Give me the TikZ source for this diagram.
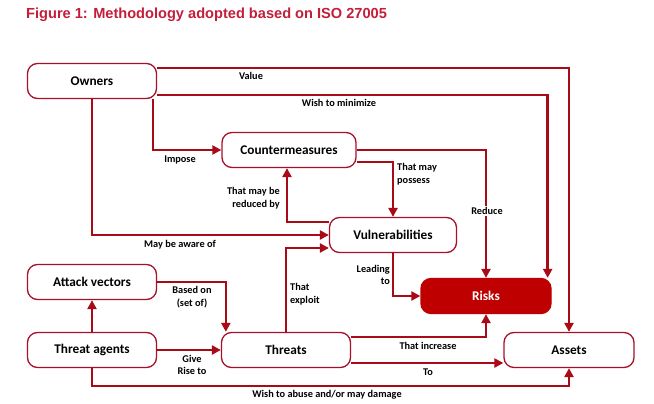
\documentclass[tikz,border=0pt]{standalone}
\usepackage{fontspec}
\setmainfont{Carlito}
\newfontfamily\titlefont{Liberation Sans}
\usetikzlibrary{arrows.meta,calc}
\definecolor{lred}{HTML}{A8102A}
\definecolor{ared}{HTML}{A80A18}
\definecolor{rfill}{HTML}{BE0000}
\definecolor{tred}{HTML}{C41E3A}
\begin{document}
\begin{tikzpicture}[x=1pt,y=-1pt,
  box/.style={draw=lred,line width=1.3pt,fill=white,rounded corners=10pt,
    minimum width=129pt,minimum height=35pt,inner sep=0pt,
    font=\fontsize{13.3}{15}\selectfont\bfseries},
  riskbox/.style={box,fill=rfill,draw=rfill,text=white},
  arr/.style={draw=ared,line width=2.6pt,-{Triangle[length=9pt,width=9pt]}},
  lab/.style={font=\fontsize{10.3}{12.6}\selectfont\bfseries,inner sep=0pt,align=center},
]
\useasboundingbox (0,0) rectangle (654,404);
\fill[white] (0,0) rectangle (654,404);
\node[anchor=west,text=tred,font=\titlefont\fontsize{14.6}{16}\selectfont\bfseries,inner sep=0pt] (title) at (26,15) {Figure 1: Methodology adopted based on ISO 27005};

% nodes
\node[box] (owners) at (92,81) {Owners};
\node[box,minimum width=134pt] (cm) at (289,150) {Countermeasures};
\node[box,minimum width=127pt] (vul) at (393,235) {Vulnerabilities};
\node[box] (attack) at (92,282) {Attack vectors};
\node[riskbox,minimum width=130pt] (risks) at (486,296) {Risks};
\node[box] (agents) at (92,350) {Threat agents};
\node[box] (threats) at (286,350) {Threats};
\node[box,minimum width=130pt] (assets) at (569,350) {Assets};

% connectors
\draw[arr] ([yshift=13pt]owners.east) -| (assets.north);
\draw[arr] ([yshift=-14pt]owners.east) -| ([xshift=-4pt]risks.north east);
\draw[arr] ([xshift=-4pt]owners.south east) |- (cm.west);
\draw[arr] (owners.south) |- (vul.west);
\draw[arr] ([yshift=-12pt]cm.east) -| (vul.north);
\draw[arr] (cm.east) -| (risks.north);
\draw[arr] ([yshift=13pt]vul.west) -| ([xshift=-2pt]cm.south);
\draw[arr] (threats.north) |- ([yshift=-13pt]vul.west);
\draw[arr] (vul.south) |- (risks.west);
\draw[arr] (attack.east) -| ([xshift=5pt]threats.north west);
\draw[arr] (agents.north) -- (attack.south);
\draw[arr] (agents.east) -- (threats.west);
\coordinate (abuse) at ([yshift=-18pt]agents.south);
\draw[arr] (agents.south) -- (abuse) -| (assets.south);
\draw[arr] ([yshift=13pt]threats.east) -| (risks.south);
\draw[arr] ([yshift=-13pt]threats.east) -- ([yshift=-13pt]assets.west);

% labels
\node[lab] (l1) at (251,76) {Value};
\node[lab] (l2) at (339,103) {Wish to minimize};
\node[lab] (l3) at (180,160) {Impose};
\node[lab] (l4) at (180,245) {May be aware of};
\node[lab,anchor=west,align=left] (l5) at (397,174) {That may\\possess};
\node[lab,fill=white,inner sep=1.5pt] (l6) at (487,211) {Reduce};
\node[lab,anchor=east,align=right] (l7) at (280,198) {That may be\\reduced by};
\node[lab,anchor=west,align=left] (l8) at (290,294) {That\\exploit};
\node[lab,anchor=east,align=right] (l9) at (390,275) {Leading\\to};
\node[lab] (l10) at (192,297) {Based on\\(set of)};
\node[lab] (l11) at (192,365) {Give\\Rise to};
\node[lab] (l12) at (428,346) {That increase};
\node[lab] (l13) at (428,372) {To};
\node[lab] (l14) at (327,395) {Wish to abuse and/or may damage};
\end{tikzpicture}
\end{document}
